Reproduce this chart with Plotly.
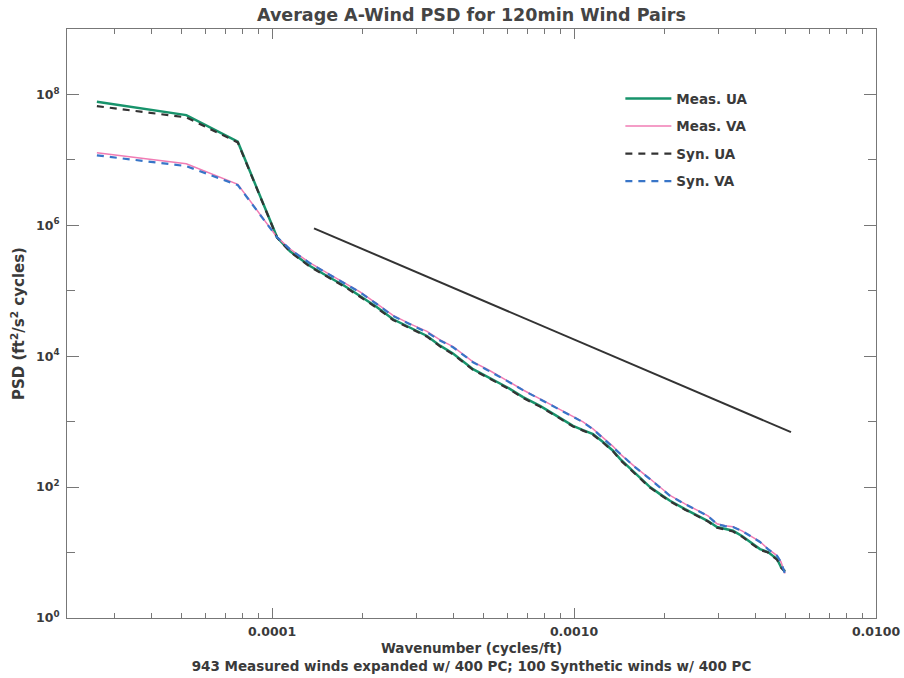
import plotly.graph_objects as go

# Wavenumber (cycles/ft)
wavenumber = [2.63e-5, 5.2e-5, 7.7e-5, 1.039e-4, 1.147e-4, 1.336e-4, 1.521e-4, 1.745e-4,
              1.956e-4, 2.227e-4, 2.516e-4, 2.864e-4, 3.260e-4, 3.600e-4, 3.974e-4,
              4.630e-4, 5.270e-4, 5.999e-4, 6.778e-4, 7.718e-4, 8.785e-4, 9.924e-4,
              1.071e-3, 1.156e-3, 1.247e-3, 1.346e-3, 1.420e-3, 1.592e-3, 1.785e-3,
              1.927e-3, 2.079e-3, 2.331e-3, 2.614e-3, 2.778e-3, 2.975e-3, 3.162e-3,
              3.361e-3, 3.599e-3, 3.825e-3, 3.974e-3, 4.129e-3, 4.388e-3, 4.701e-3,
              4.846e-3, 4.996e-3]

meas_ua = [7.74e7, 4.83e7, 1.897e7, 6.56e5, 4.01e5, 2.39e5, 1.683e5, 1.172e5,
           8.33e4, 5.60e4, 3.67e4, 2.77e4, 2.04e4, 1.45e4, 1.10e4,
           6.33e3, 4.62e3, 3.36e3, 2.37e3, 1.743e3, 1.213e3, 863,
           742, 645, 490, 360, 270, 165, 100,
           78.2, 61.8, 46.1, 34.8, 30.3, 24.5, 22.8,
           21.5, 17.9, 14.5, 13.0, 11.3, 10.2, 7.96,
           6.01, 5.22]

meas_va = [1.288e7, 8.75e6, 4.23e6, 6.6e5, 4.35e5, 2.66e5, 1.88e5, 1.32e5,
           9.6e4, 6.30e4, 4.20e4, 3.12e4, 2.40e4, 1.78e4, 1.40e4,
           8.20e3, 6.00e3, 4.25e3, 3.05e3, 2.23e3, 1.62e3, 1.18e3,
           990, 775, 565, 420, 322, 204, 134,
           101, 74.5, 55.5, 41.8, 36.4, 27.5, 25.6,
           24.8, 21.5, 18.2, 16.3, 14.7, 11.4, 9.0,
           7.2, 4.8]

syn_ua = [6.63e7, 4.46e7, 1.85e7, 6.5e5, 3.95e5, 2.33e5, 1.65e5, 1.14e5,
          8.1e4, 5.45e4, 3.58e4, 2.70e4, 1.99e4, 1.41e4, 1.07e4,
          6.20e3, 4.50e3, 3.28e3, 2.31e3, 1.70e3, 1.19e3, 845,
          730, 630, 480, 352, 262, 160, 98,
          77, 60.5, 45.2, 34.0, 29.8, 24.0, 22.5,
          21.0, 17.5, 14.2, 12.8, 11.0, 10.0, 7.8,
          5.9, 5.1]

syn_va = [1.172e7, 8.04e6, 4.12e6, 6.56e5, 4.30e5, 2.63e5, 1.850e5, 1.302e5,
          9.49e4, 6.22e4, 4.12e4, 3.08e4, 2.32e4, 1.74e4, 1.37e4,
          8.10e3, 5.90e3, 4.20e3, 3.03e3, 2.21e3, 1.607e3, 1.172e3,
          982, 768, 560, 408, 319, 202, 132.5,
          100, 73.7, 55.0, 41.5, 36.1, 27.2, 25.4,
          24.5, 21.3, 18.05, 16.1, 14.5, 11.3, 8.94,
          7.16, 4.70]

# Reference slope line
ref_k = [1.377e-4, 5.23e-3]
ref_psd = [9.0e5, 691]

x_tickvals = [1e-4, 1e-3, 1e-2]
x_ticktext = ["0.0001", "0.0010", "0.0100"]
x_minor = [2e-5, 3e-5, 4e-5, 5e-5, 6e-5, 7e-5, 8e-5, 9e-5,
           2e-4, 3e-4, 4e-4, 5e-4, 6e-4, 7e-4, 8e-4, 9e-4,
           2e-3, 3e-3, 4e-3, 5e-3, 6e-3, 7e-3, 8e-3, 9e-3]
y_tickvals = [1, 1e2, 1e4, 1e6, 1e8]
y_ticktext = ["10<sup>0</sup>", "10<sup>2</sup>", "10<sup>4</sup>", "10<sup>6</sup>", "10<sup>8</sup>"]
y_minor = [10, 1e3, 1e5, 1e7]

FONT = "DejaVu Sans, Verdana, sans-serif"
TXT = "#3a3a3a"

fig = go.Figure()
fig.add_trace(go.Scatter(x=wavenumber, y=meas_ua, mode="lines", name="Meas. UA",
                         line=dict(color="#17936b", width=2.5), legendgroup="a"))
fig.add_trace(go.Scatter(x=wavenumber, y=meas_va, mode="lines", name="Meas. VA",
                         line=dict(color="#f07cb4", width=1.5), legendgroup="b"))
fig.add_trace(go.Scatter(x=wavenumber, y=syn_ua, mode="lines", name="Syn. UA",
                         line=dict(color="#333333", width=2.2, dash="7px,6px"), legendgroup="c"))
fig.add_trace(go.Scatter(x=wavenumber, y=syn_va, mode="lines", name="Syn. VA",
                         line=dict(color="#3875c8", width=2.2, dash="7px,6px"), legendgroup="d"))
fig.add_trace(go.Scatter(x=ref_k, y=ref_psd, mode="lines", showlegend=False,
                         line=dict(color="#333333", width=2)))

axis_common = dict(showline=True, linecolor="#777777", linewidth=1, mirror="ticks",
                   ticks="inside", tickcolor="#777777", showgrid=False, zeroline=False,
                   automargin=False,
                   tickfont=dict(family=FONT, size=12.5, color=TXT, weight="bold"))

fig.update_layout(
    width=904, height=678,
    margin=dict(l=67, r=28, t=29, b=60),
    paper_bgcolor="white", plot_bgcolor="white",
    title=dict(text="Average A-Wind PSD for 120min Wind Pairs", x=0.5215, xanchor="center",
               y=0.978, yanchor="middle",
               font=dict(family=FONT, size=17.5, color="#444444", weight="bold")),
    xaxis=dict(type="log", range=[-4.679, -2], tickvals=x_tickvals, ticktext=x_ticktext,
               ticklen=10, ticklabelstandoff=2,
               minor=dict(tickvals=x_minor, ticks="inside", ticklen=5, tickcolor="#777777"),
               title=dict(text="Wavenumber (cycles/ft)<br>943 Measured winds expanded w/ 400 PC; 100 Synthetic winds w/ 400 PC",
                          font=dict(family=FONT, size=13.5, color=TXT, weight="bold"), standoff=5),
               **axis_common),
    yaxis=dict(type="log", range=[0, 9], tickvals=y_tickvals, ticktext=y_ticktext,
               ticklen=12, ticklabelstandoff=4,
               minor=dict(tickvals=y_minor, ticks="inside", ticklen=8, tickcolor="#777777"),
               title=dict(text="PSD (ft<sup>2</sup>/s<sup>2</sup> cycles)",
                          font=dict(family=FONT, size=15, color=TXT, weight="bold"), standoff=7),
               **axis_common),
    legend=dict(x=0.684, y=0.908, xanchor="left", yanchor="top", bgcolor="rgba(0,0,0,0)",
                traceorder="grouped", tracegroupgap=7, itemwidth=46,
                font=dict(family=FONT, size=13.5, color=TXT, weight="bold")),
)

fig.write_html("out.html")
